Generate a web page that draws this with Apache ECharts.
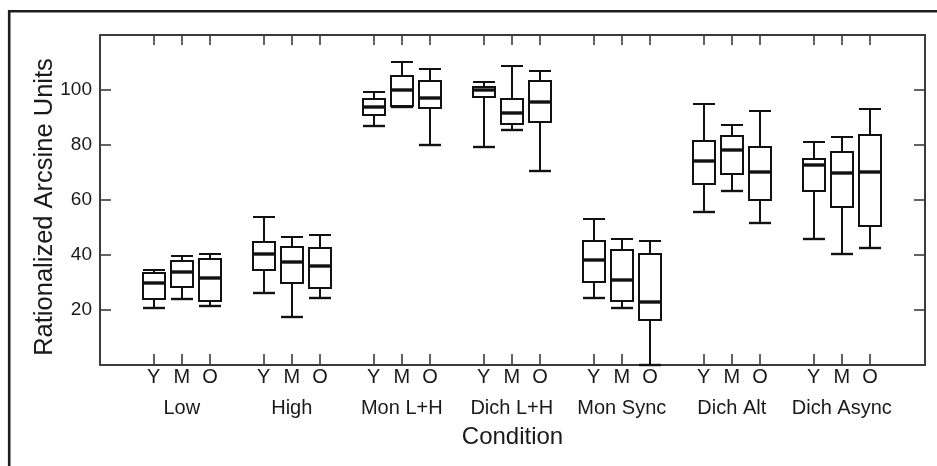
<!DOCTYPE html>
<html>
<head>
<meta charset="utf-8">
<script src="https://cdn.jsdelivr.net/npm/echarts@6/dist/echarts.min.js"></script>
<style>
  html, body { margin: 0; padding: 0; background: #fff; }
  #chart { width: 937px; height: 466px; }
</style>
</head>
<body>
<div id="chart"></div>
<script>
// Conditions and listener age groups
const groups = ['Low', 'High', 'Mon L+H', 'Dich L+H', 'Mon Sync', 'Dich Alt', 'Dich Async'];
const ages = ['Y', 'M', 'O'];
const yTicks = [20, 40, 60, 80, 100];

// each row: [min, Q1, median, Q3, max] for Y, M, O
const low       = [[20.6, 24.0, 29.9, 33.3, 34.5], [24.0, 28.5, 33.8, 37.9, 39.6], [21.5, 23.3, 31.8, 38.7, 40.4]];
const high      = [[26.1, 34.5, 40.2, 44.6, 53.9], [17.3, 30.0, 37.3, 43.0, 46.7], [24.5, 27.9, 36.0, 42.4, 47.4]];
const monLH     = [[87.0, 90.8, 93.9, 96.8, 99.3], [93.8, 94.3, 100.0, 105.1, 110.1], [79.9, 93.3, 97.0, 103.4, 107.6]];
const dichLH    = [[79.4, 97.6, 100.0, 101.2, 103.0], [85.5, 87.5, 91.7, 96.9, 108.8], [70.7, 88.4, 95.7, 103.4, 106.9]];
const monSync   = [[24.4, 30.1, 38.1, 45.2, 53.1], [20.9, 23.4, 30.9, 42.0, 46.0], [0.0, 16.4, 22.9, 40.2, 45.2]];
const dichAlt   = [[55.5, 65.7, 74.3, 81.6, 94.8], [63.2, 69.5, 78.2, 83.3, 87.2], [51.5, 60.0, 70.3, 79.4, 92.4]];
const dichAsync = [[45.7, 63.2, 72.8, 75.0, 81.2], [40.4, 57.6, 69.7, 77.6, 82.8], [42.5, 50.5, 70.1, 83.5, 93.0]];

const allGroups = [low, high, monLH, dichLH, monSync, dichAlt, dichAsync];

// layout of slots on the numeric x axis (group index * step + age index)
const GROUP_STEP = 3.9;
const BOX_W = 0.8;
const slotPos = [];
const slotAge = [];
const groupPos = [];
const boxData = [];
allGroups.forEach((g, gi) => {
  groupPos.push(+(gi * GROUP_STEP + 1).toFixed(3));
  g.forEach((s, ai) => {
    const p = +(gi * GROUP_STEP + ai).toFixed(3);
    slotPos.push(p);
    slotAge.push(ages[ai]);
    boxData.push([p].concat(s));
  });
});

function nearest(list, v) {
  for (let i = 0; i < list.length; i++) {
    if (Math.abs(list[i] - v) < 1e-3) return i;
  }
  return -1;
}
function ageLabel(v) { const i = nearest(slotPos, v); return i < 0 ? '' : slotAge[i]; }
function groupLabel(v) { const i = nearest(groupPos, v); return i < 0 ? '' : groups[i]; }

const LINE = '#111';
const AX = '#3c3c3c';
const TXT = '#1a1a1a';
const FONT = 'Liberation Sans, Arial, Helvetica, sans-serif';

function renderItem(params, api) {
  const x = api.value(0);
  const half = api.size([BOX_W, 0])[0] / 2;
  const c = (v) => api.coord([x, v]);
  const pMin = c(api.value(1)), pQ1 = c(api.value(2)), pMed = c(api.value(3)),
        pQ3 = c(api.value(4)), pMax = c(api.value(5));
  const cx = Math.round(pMin[0]);
  const L = Math.round(cx - half), R = Math.round(cx + half);
  const r = (v) => Math.round(v);
  const st = { stroke: LINE, lineWidth: 2, fill: null };
  return {
    type: 'group',
    children: [
      { type: 'line', shape: { x1: cx, y1: r(pMax[1]), x2: cx, y2: r(pQ3[1]) }, style: st },
      { type: 'line', shape: { x1: cx, y1: r(pQ1[1]), x2: cx, y2: r(pMin[1]) }, style: st },
      { type: 'line', shape: { x1: L, y1: r(pMax[1]), x2: R, y2: r(pMax[1]) }, style: st },
      { type: 'line', shape: { x1: L, y1: r(pMin[1]), x2: R, y2: r(pMin[1]) }, style: { stroke: LINE, lineWidth: 2.4 } },
      { type: 'rect', shape: { x: L, y: r(pQ3[1]), width: R - L, height: r(pQ1[1]) - r(pQ3[1]) },
        style: { stroke: LINE, lineWidth: 2, fill: '#fff' } },
      { type: 'line', shape: { x1: L, y1: r(pMed[1]), x2: R, y2: r(pMed[1]) },
        style: { stroke: LINE, lineWidth: 3.4 } }
    ]
  };
}

const xMin = -1.9;
const xMax = +((groups.length - 1) * GROUP_STEP + 2 + 1.95).toFixed(3);

const chart = echarts.init(document.getElementById('chart'), null, { renderer: 'canvas' });
chart.setOption({
  animation: false,
  backgroundColor: '#fff',
  textStyle: { fontFamily: FONT },
  grid: { left: 100, right: 12, top: 35, bottom: 101, containLabel: false },
  graphic: [{
    type: 'rect', silent: true,
    shape: { x: 9.2, y: 11.3, width: 1000, height: 600 },
    style: { fill: null, stroke: '#1e1e1e', lineWidth: 2.6 }
  }],
  xAxis: [{
    type: 'value', position: 'bottom', min: xMin, max: xMax,
    name: 'Condition', nameLocation: 'middle', nameGap: 60, nameMoveOverlap: false,
    nameTextStyle: { fontSize: 24, color: TXT, fontFamily: FONT },
    axisLine: { show: true, onZero: false, lineStyle: { color: AX, width: 2 } },
    axisTick: { show: true, inside: true, length: 11, customValues: slotPos, lineStyle: { color: AX, width: 1.6 } },
    axisLabel: {
      show: true, margin: 2, customValues: slotPos, formatter: ageLabel,
      showMinLabel: true, showMaxLabel: true, hideOverlap: false,
      fontSize: 20, lineHeight: 20, color: TXT, fontFamily: FONT
    },
    splitLine: { show: false }
  }, {
    type: 'value', position: 'top', min: xMin, max: xMax,
    axisLine: { show: true, onZero: false, lineStyle: { color: AX, width: 2 } },
    axisTick: { show: true, inside: true, length: 10, customValues: slotPos, lineStyle: { color: AX, width: 1.6 } },
    axisLabel: { show: false },
    splitLine: { show: false }
  }, {
    type: 'value', position: 'bottom', min: xMin, max: xMax,
    axisLine: { show: false },
    axisTick: { show: false },
    axisLabel: {
      show: true, margin: 33, customValues: groupPos, formatter: groupLabel,
      showMinLabel: true, showMaxLabel: true, hideOverlap: false,
      fontSize: 20, lineHeight: 20, color: TXT, fontFamily: FONT
    },
    splitLine: { show: false }
  }],
  yAxis: [{
    type: 'value', position: 'left', min: 0, max: 120, interval: 20,
    name: 'Rationalized Arcsine Units', nameLocation: 'middle', nameGap: 42, nameRotate: 90,
    nameMoveOverlap: false,
    nameTextStyle: { fontSize: 25.5, color: TXT, fontFamily: FONT, padding: [0, 14, 0, 0] },
    axisLine: { show: true, onZero: false, lineStyle: { color: AX, width: 2 } },
    axisTick: { show: true, inside: true, length: 11, customValues: yTicks, lineStyle: { color: AX, width: 1.6 } },
    axisLabel: { show: true, customValues: yTicks, margin: 8, fontSize: 19, color: TXT, fontFamily: FONT },
    splitLine: { show: false }
  }, {
    type: 'value', position: 'right', min: 0, max: 120, interval: 20,
    axisLine: { show: true, onZero: false, lineStyle: { color: AX, width: 2 } },
    axisTick: { show: true, inside: true, length: 11, customValues: yTicks, lineStyle: { color: AX, width: 1.6 } },
    axisLabel: { show: false },
    splitLine: { show: false }
  }],
  series: [{
    type: 'custom',
    name: 'Scores',
    xAxisIndex: 0, yAxisIndex: 0,
    z: 10,
    renderItem: renderItem,
    encode: { x: 0, y: [1, 2, 3, 4, 5] },
    data: boxData,
    clip: false
  }]
});
</script>
</body>
</html>
